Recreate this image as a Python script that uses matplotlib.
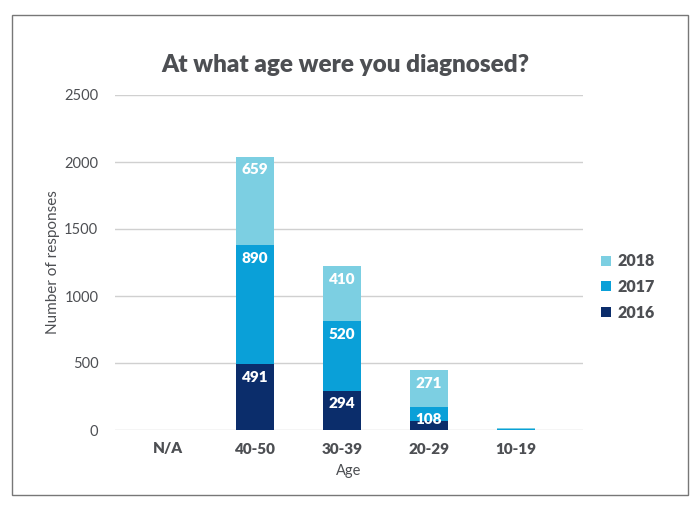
import matplotlib
matplotlib.use("Agg")
import matplotlib.pyplot as plt
from matplotlib.patches import Rectangle

categories = ["N/A", "40-50", "30-39", "20-29", "10-19"]
y2016 = [0, 491, 294, 67, 2]
y2017 = [0, 890, 520, 108, 8]
y2018 = [0, 659, 410, 271, 5]
lab2016 = ["", "491", "294", "", ""]
lab2017 = ["", "890", "520", "108", ""]
lab2018 = ["", "659", "410", "271", ""]

c2016 = "#0b2d6b"
c2017 = "#0aa0d8"
c2018 = "#7ccfe2"
txt = "#4d4f53"

plt.rcParams['font.family'] = ['Lato', 'DejaVu Sans']

fig = plt.figure(figsize=(6.99, 5.09), dpi=100)
ax = fig.add_axes([115/699, 1-430/509, (583-115)/699, (430-95)/509])

x = list(range(len(categories)))
w = 0.43
b1 = ax.bar(x, y2016, w, color=c2016, label="2016", zorder=3)
bot2 = y2016
b2 = ax.bar(x, y2017, w, bottom=bot2, color=c2017, label="2017", zorder=3)
bot3 = [a + b for a, b in zip(y2016, y2017)]
b3 = ax.bar(x, y2018, w, bottom=bot3, color=c2018, label="2018", zorder=3)

# value labels just under the top of each segment
for bars, labs in ((b1, lab2016), (b2, lab2017), (b3, lab2018)):
    for r, s in zip(bars, labs):
        if s:
            ax.annotate(s, (r.get_x() + r.get_width()/2, r.get_y() + r.get_height()),
                        xytext=(0, -9.5), textcoords="offset points",
                        ha="center", va="center", color="white",
                        fontsize=11, fontweight="heavy", zorder=4)

ax.set_ylim(0, 2500)
ax.set_xlim(-0.61, 4.77)
ax.set_yticks([0, 500, 1000, 1500, 2000, 2500])
ax.set_xticks(x)
ax.set_xticklabels(categories, fontweight="heavy", fontsize=11, color=txt)
ax.tick_params(axis="y", labelsize=10.5, colors=txt, length=0, pad=12)
ax.tick_params(axis="x", length=0, pad=9)
ax.grid(axis="y", color="#d0d0d0", linewidth=1, zorder=0)
for sp in ax.spines.values():
    sp.set_visible(False)

ax.set_ylabel("Number of responses", fontsize=11, color=txt, labelpad=3)
ax.set_xlabel("Age", fontsize=10.5, color=txt, labelpad=6)
fig.text(0.494, 1-65/509, "At what age were you diagnosed?", ha="center", va="center",
         fontsize=17.5, fontweight="heavy", color=txt)

handles = [b3, b2, b1]
leg = fig.legend(handles, ["2018", "2017", "2016"], loc="center left",
                 bbox_to_anchor=(587/699, 1-287/509), frameon=False,
                 handlelength=0.6, handleheight=0.6, handletextpad=0.4,
                 labelspacing=0.6, prop={"weight": "heavy", "size": 11.5})
for t in leg.get_texts():
    t.set_color(txt)

fig.patches.append(Rectangle((12/699, 1-495/509), 676/699, 480/509,
                             transform=fig.transFigure, fill=False,
                             edgecolor="#777777", linewidth=1))

fig.savefig("out.png", dpi=100)
